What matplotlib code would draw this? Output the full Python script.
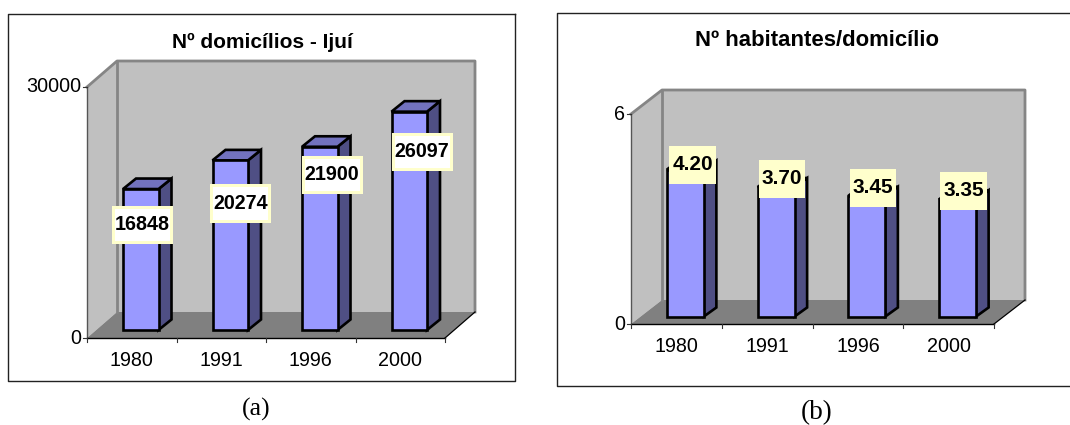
import matplotlib
matplotlib.use("Agg")
import matplotlib.pyplot as plt
from matplotlib.patches import Polygon, Rectangle
from matplotlib.lines import Line2D

W, H = 1070, 425

years = ["1980", "1991", "1996", "2000"]
domicilios = [16848, 20274, 21900, 26097]
habitantes = [4.20, 3.70, 3.45, 3.35]
domicilios_labels = ["16848", "20274", "21900", "26097"]
habitantes_labels = ["4.20", "3.70", "3.45", "3.35"]

FRONT = "#9999FF"
SIDE = "#4F4F84"
TOP = "#7272BE"
WALL = "#C0C0C0"
FLOOR = "#808080"
EDGE = "#858585"
CREAM = "#FFFFCC"
SANS = "Liberation Sans"

fig = plt.figure(figsize=(W / 100, H / 100), dpi=100, facecolor="white")


def panel(frame, plane, depth, values, labels, ymax, title, title_xy, title_size, caption,
          caption_xy, caption_size, label_centres, label_size, box, inner_white, bar_width,
          bar_depth, bar_lift, tick_y, open_right):
    """Draw one pseudo-3D column chart; geometry arguments are in pixels from the top left."""
    left, right, top, bottom = plane
    ax = fig.add_axes([left / W, 1 - bottom / H, (right - left) / W, (bottom - top) / H])
    ax.set_xlim(0, len(values))
    ax.set_ylim(0, ymax)
    ax.axis("off")
    ux = len(values) / (right - left)
    uy = ymax / (bottom - top)
    dx, dy = depth[0] * ux, depth[1] * uy
    n = len(values)

    def poly(pts, fc, z, ec="none", lw=0):
        ax.add_patch(Polygon(pts, closed=True, fc=fc, ec=ec, lw=lw, zorder=z,
                             clip_on=False, joinstyle="miter"))

    def line(xs, ys, color, lw, z):
        ax.add_line(Line2D(xs, ys, color=color, lw=lw, zorder=z, clip_on=False,
                           solid_capstyle="projecting"))

    # Walls and floor of the box
    poly([(dx, dy), (n + dx, dy), (n + dx, ymax + dy), (dx, ymax + dy)], WALL, 1)
    poly([(0, 0), (dx, dy), (dx, ymax + dy), (0, ymax)], WALL, 1)
    poly([(0, 0), (n, 0), (n + dx, dy), (dx, dy)], FLOOR, 2)
    line([0, dx, n + dx, n + dx], [ymax, ymax + dy, ymax + dy, dy], EDGE, 2.0, 3)
    line([dx, dx], [dy, ymax + dy], EDGE, 2.0, 2.5)
    line([0, 0], [0, ymax], "#555555", 1.0, 3)
    line([0, n], [0, 0], "black", 1.0, 6)
    line([n, n + dx], [0, dy], "black", 0.9, 6)

    # Axis ticks and labels
    for i in range(n + 1):
        line([i, i], [0, -4 * uy], "#333333", 0.8, 6)
    for v in (0, ymax):
        line([-4 * ux, 0], [v, v], "#333333", 0.8, 6)
        ax.text(-6 * ux, v, str(v), ha="right", va="center", fontsize=14.2,
                family=SANS, color="black")
    for i, year in enumerate(years):
        ax.text(i + 0.5, tick_y * uy * -1, year, ha="center", va="center",
                fontsize=14.2, family=SANS, color="black")

    # Columns
    sx0 = bar_lift[0] * ux
    sy0 = bar_lift[1] * uy
    bw = bar_width * ux
    bdx, bdy = bar_depth[0] * ux, bar_depth[1] * uy
    for i, v in enumerate(values):
        x0 = i + 0.5 + sx0 - bw / 2
        x1 = x0 + bw
        y0 = sy0
        y1 = sy0 + v
        stroke = dict(ec="black", lw=1.9)
        poly([(x1, y0), (x1 + bdx, y0 + bdy), (x1 + bdx, y1 + bdy), (x1, y1)], SIDE, 7, **stroke)
        poly([(x0, y1), (x1, y1), (x1 + bdx, y1 + bdy), (x0 + bdx, y1 + bdy)], TOP, 7, **stroke)
        poly([(x0, y0), (x1, y0), (x1, y1), (x0, y1)], FRONT, 8, **stroke)

    # Value labels sit on cream boxes
    bw_px, bh_px = box
    for text, (cx, cy) in zip(labels, label_centres):
        ax_x = (cx - left) * ux
        ax_y = (bottom - cy) * uy
        ax.add_patch(Rectangle((ax_x - bw_px / 2 * ux, ax_y - bh_px / 2 * uy), bw_px * ux, bh_px * uy,
                               fc=CREAM, ec="none", zorder=9, clip_on=False))
        if inner_white:
            ax.add_patch(Rectangle((ax_x - (bw_px / 2 - 3) * ux, ax_y - (bh_px / 2 - 3) * uy),
                                   (bw_px - 6) * ux, (bh_px - 6) * uy,
                                   fc="white", ec="none", zorder=9.5, clip_on=False))
        ax.text(ax_x, ax_y + 0.5 * uy, text, ha="center", va="center", fontsize=label_size,
                fontweight="bold", family=SANS, color="black", zorder=10)

    # Surrounding frame and text in figure pixels
    fl, fr, ft, fb = frame
    pts = [(fr, ft), (fl, ft), (fl, fb), (fr, fb)]
    if not open_right:
        pts.append((fr, ft))
    fig.add_artist(Line2D([p[0] / W for p in pts], [1 - p[1] / H for p in pts],
                          color="#222222", lw=1.0))
    fig.text(title_xy[0] / W, 1 - title_xy[1] / H, title, ha="center", va="center",
             fontsize=title_size, fontweight="bold", family=SANS, color="black")
    fig.text(caption_xy[0] / W, 1 - caption_xy[1] / H, caption, ha="center", va="center",
             fontsize=caption_size, family="Liberation Serif", color="black")


panel(frame=(8, 515, 14, 381), plane=(87, 445, 87, 338), depth=(30, 26),
      values=domicilios, labels=domicilios_labels, ymax=30000,
      title="Nº domicílios - Ijuí", title_xy=(262, 42), title_size=15.0,
      caption="(a)", caption_xy=(256, 409), caption_size=18.5,
      label_centres=[(142, 225), (240.5, 203.5), (332, 175), (422, 152)], label_size=14.2,
      box=(61, 38.5), inner_white=True, bar_width=35.5, bar_depth=(13, 10.5), bar_lift=(9, 8),
      tick_y=22, open_right=False)

panel(frame=(557, 1070, 13, 386), plane=(631, 994, 114, 324), depth=(31, 24),
      values=habitantes, labels=habitantes_labels, ymax=6,
      title="Nº habitantes/domicílio", title_xy=(817, 40), title_size=15.9,
      caption="(b)", caption_xy=(817, 413), caption_size=19.5,
      label_centres=[(692.5, 165), (782, 179), (873, 188), (963.5, 191)], label_size=15.0,
      box=(46.4, 38), inner_white=False, bar_width=37, bar_depth=(12.5, 9), bar_lift=(9, 7.5),
      tick_y=22, open_right=True)

fig.savefig("out.png", dpi=100, facecolor="white")
